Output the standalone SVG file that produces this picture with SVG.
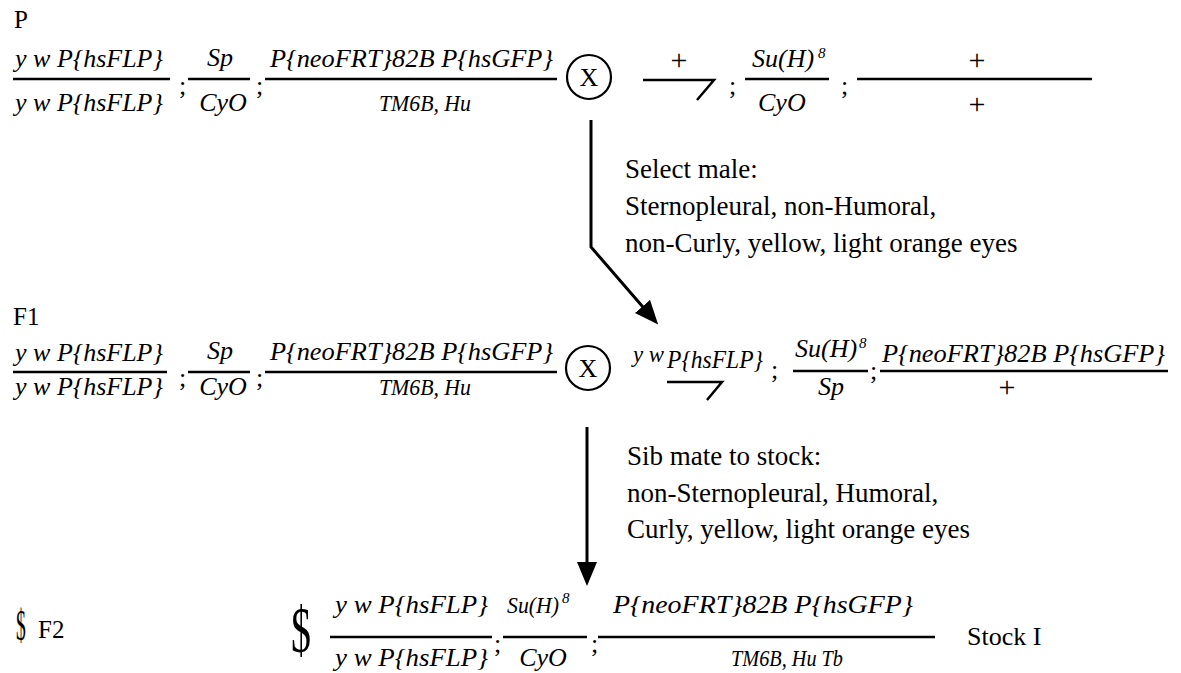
<svg xmlns="http://www.w3.org/2000/svg" width="1181" height="673" viewBox="0 0 1181 673" font-family="Liberation Serif, serif">
  <style>
    text { font-family: "Liberation Serif", "DejaVu Serif", serif; fill: #000; }
    .g { font-style: italic; font-size: 26px; }
    .gs { font-style: italic; font-size: 24px; }
    .r { font-size: 26px; }
    .lbl { font-size: 25px; }
    .plus { font-size: 30px; text-anchor: middle; }
    .note { font-size: 27px; }
    .sup { font-style: italic; font-size: 15px; }
    .mid { text-anchor: middle; }
    .bar { stroke: #000; stroke-width: 2.5; fill: none; }
    .hook { stroke: #000; stroke-width: 2.5; fill: none; stroke-linejoin: miter; }
    .cross { stroke: #000; stroke-width: 2.2; fill: #fff; }
    .conn { stroke: #000; stroke-width: 3; fill: none; }
  </style>
  <defs>
    <marker id="head" viewBox="0 0 24 20" refX="10" refY="10" markerWidth="24" markerHeight="20" markerUnits="userSpaceOnUse" orient="auto">
      <path d="M0,0 L24,10 L0,20 z" fill="#000"/>
    </marker>
  </defs>
  <rect width="1181" height="673" fill="#fff"/>

  <!-- Generation labels -->
  <g id="label-P"><text class="lbl" x="14" y="28">P</text></g>
  <g id="label-F1"><text class="lbl" x="13" y="325">F1</text></g>
  <g id="label-F2">
    <text class="lbl" transform="translate(16,640) scale(0.7,1.55)" style="font-size:28px">$</text>
    <text class="lbl" x="38" y="638">F2</text>
  </g>

  <!-- P: female parent -->
  <g id="p-female">
    <text class="g" x="15" y="67">y w P{hsFLP}</text>
    <line class="bar" x1="13" y1="79" x2="170" y2="79"/>
    <text class="g" x="15" y="111">y w P{hsFLP}</text>
    <text class="r" x="179" y="94">;</text>
    <text class="g mid" x="220" y="66">Sp</text>
    <line class="bar" x1="188" y1="79" x2="250" y2="79"/>
    <text class="g mid" x="223" y="111">CyO</text>
    <text class="r" x="256" y="94">;</text>
    <text class="g" x="270" y="67" textLength="283" lengthAdjust="spacingAndGlyphs">P{neoFRT}82B P{hsGFP}</text>
    <line class="bar" x1="265" y1="79" x2="557" y2="79"/>
    <text class="gs" x="379" y="111" textLength="92" lengthAdjust="spacingAndGlyphs">TM6B, Hu</text>
  </g>

  <!-- P: cross symbol -->
  <g id="p-cross">
    <circle class="cross" cx="589" cy="77" r="22"/>
    <text class="r mid" x="589" y="86">X</text>
  </g>

  <!-- P: male parent -->
  <g id="p-male">
    <text class="plus" x="679" y="70">+</text>
    <path class="hook" d="M643,80 H714 L697,100"/>
    <text class="r" x="729" y="94">;</text>
    <text class="g" x="752" y="67">Su(H)</text>
    <text class="sup" x="818" y="58">8</text>
    <line class="bar" x1="745" y1="79" x2="829" y2="79"/>
    <text class="g" x="758" y="111">CyO</text>
    <text class="r" x="841" y="94">;</text>
    <text class="plus" x="977" y="70">+</text>
    <line class="bar" x1="857" y1="79" x2="1092" y2="79"/>
    <text class="plus" x="977" y="114">+</text>
  </g>

  <!-- Selection notes -->
  <g id="note-select">
    <text class="note" x="625" y="178">Select male:</text>
    <text class="note" x="625" y="215">Sternopleural, non-Humoral,</text>
    <text class="note" x="625" y="252">non-Curly, yellow, light orange eyes</text>
  </g>

  <!-- F1: female -->
  <g id="f1-female">
    <text class="g" x="15" y="361">y w P{hsFLP}</text>
    <line class="bar" x1="13" y1="372" x2="167" y2="372"/>
    <text class="g" x="15" y="395">y w P{hsFLP}</text>
    <text class="r" x="179" y="386">;</text>
    <text class="g mid" x="220" y="359">Sp</text>
    <line class="bar" x1="188" y1="372" x2="250" y2="372"/>
    <text class="g mid" x="223" y="395">CyO</text>
    <text class="r" x="256" y="386">;</text>
    <text class="g" x="270" y="360" textLength="283" lengthAdjust="spacingAndGlyphs">P{neoFRT}82B P{hsGFP}</text>
    <line class="bar" x1="265" y1="372" x2="557" y2="372"/>
    <text class="gs" x="379" y="395" textLength="92" lengthAdjust="spacingAndGlyphs">TM6B, Hu</text>
  </g>

  <!-- F1: cross symbol -->
  <g id="f1-cross">
    <circle class="cross" cx="588" cy="368" r="22"/>
    <text class="r mid" x="588" y="377">X</text>
  </g>

  <!-- F1: male -->
  <g id="f1-male">
    <text class="gs" x="633" y="362" textLength="31" lengthAdjust="spacingAndGlyphs">y w</text>
    <text class="g" x="667" y="368" textLength="96" lengthAdjust="spacingAndGlyphs">P{hsFLP}</text>
    <path class="hook" d="M667,382 H722 L707,400"/>
    <text class="r" x="771" y="378">;</text>
    <text class="g" x="795" y="357">Su(H)</text>
    <text class="sup" x="859" y="348">8</text>
    <line class="bar" x1="793" y1="371" x2="868" y2="371"/>
    <text class="g" x="818" y="395">Sp</text>
    <text class="r" x="870" y="379">;</text>
    <text class="g" x="882" y="362" textLength="283" lengthAdjust="spacingAndGlyphs">P{neoFRT}82B P{hsGFP}</text>
    <line class="bar" x1="880" y1="371" x2="1168" y2="371"/>
    <text class="plus" x="1007" y="397">+</text>
  </g>

  <!-- Sib-mating notes -->
  <g id="note-sib">
    <text class="note" x="627" y="465">Sib mate to stock:</text>
    <text class="note" x="627" y="502">non-Sternopleural, Humoral,</text>
    <text class="note" x="627" y="538">Curly, yellow, light orange eyes</text>
  </g>

  <!-- F2: stock -->
  <g id="f2-stock">
    <text class="r" transform="translate(291,652) scale(0.8,1.3)" style="font-size:50px">$</text>
    <text class="g" x="335" y="613" textLength="153" lengthAdjust="spacingAndGlyphs">y w P{hsFLP}</text>
    <line class="bar" x1="330" y1="637" x2="492" y2="637"/>
    <text class="g" x="335" y="666" textLength="153" lengthAdjust="spacingAndGlyphs">y w P{hsFLP}</text>
    <text class="r" x="494" y="652">;</text>
    <text class="gs" x="507" y="613" textLength="52" lengthAdjust="spacingAndGlyphs">Su(H)</text>
    <text class="sup" x="562" y="603">8</text>
    <line class="bar" x1="503" y1="637" x2="587" y2="637"/>
    <text class="g mid" x="543" y="666">CyO</text>
    <text class="r" x="591" y="652">;</text>
    <text class="g" x="613" y="613" textLength="300" lengthAdjust="spacingAndGlyphs">P{neoFRT}82B P{hsGFP}</text>
    <line class="bar" x1="598" y1="637" x2="935" y2="637"/>
    <text class="gs" x="731" y="666" textLength="112" lengthAdjust="spacingAndGlyphs">TM6B, Hu Tb</text>
  </g>
  <g id="stock-name"><text class="r" x="967" y="645">Stock I</text></g>

  <!-- Connectors -->
  <g id="connectors">
    <path class="conn" d="M591,120 V247 L649,314" marker-end="url(#head)"/>
    <path class="conn" d="M587,427 V572" marker-end="url(#head)"/>
  </g>
</svg>
